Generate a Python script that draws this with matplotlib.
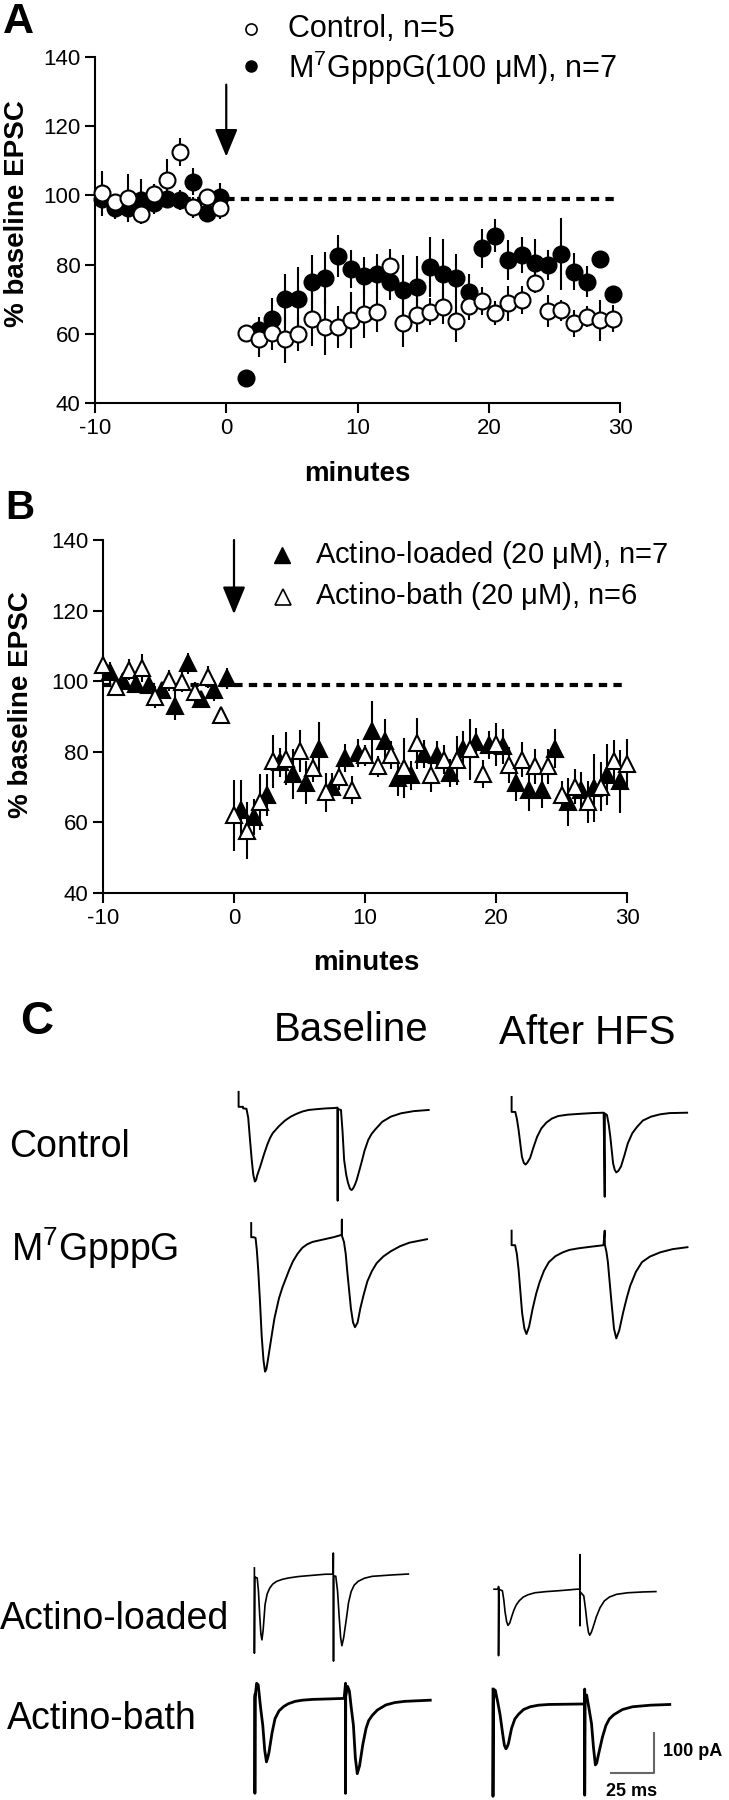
import matplotlib
matplotlib.use('Agg')
import matplotlib.pyplot as plt

plt.rcParams['font.family'] = ['Liberation Sans', 'DejaVu Sans']
plt.rcParams['mathtext.fontset'] = 'custom'
plt.rcParams['mathtext.rm'] = 'Liberation Sans'
plt.rcParams['mathtext.it'] = 'Liberation Sans:italic'
plt.rcParams['mathtext.bf'] = 'Liberation Sans:bold'
plt.rcParams['mathtext.default'] = 'regular'
plt.rcParams['axes.unicode_minus'] = False

# ---------------- DATA: panel A ----------------
a_ctrl_t = [-9.5, -8.5, -7.5, -6.5, -5.5, -4.5, -3.5, -2.5, -1.5, -0.5,
            1.5, 2.5, 3.5, 4.5, 5.5, 6.5, 7.5, 8.5, 9.5, 10.5, 11.5, 12.5, 13.5, 14.5, 15.5,
            16.5, 17.5, 18.5, 19.5, 20.5, 21.5, 22.5, 23.5, 24.5, 25.5, 26.5, 27.5, 28.5, 29.5]
a_ctrl_y = [100.6, 98.1, 99.2, 94.6, 100.4, 104.5, 112.5, 96.6, 99.4, 96.3,
            60.3, 58.4, 60.3, 58.6, 59.9, 64.4, 62.0, 62.0, 64.0, 65.7, 66.4, 79.6, 63.2, 65.4, 66.4,
            67.8, 63.7, 68.0, 69.5, 65.9, 68.8, 69.7, 74.8, 66.6, 66.8, 63.0, 64.9, 63.9, 64.4]
a_ctrl_e = [6.5, 2, 7, 3, 3, 6, 4, 3, 2, 3,
            2, 5, 5, 7, 5, 8, 8, 6, 8, 7, 6, 5, 7, 5, 4,
            5, 6, 4, 4, 3.5, 5, 4, 3, 4.5, 3, 4, 3, 6, 4]
a_m7_t = a_ctrl_t
a_m7_y = [99.0, 96.3, 96.3, 98.7, 97.7, 99.0, 98.7, 104.0, 94.8, 99.5,
          47.3, 61.0, 64.4, 70.2, 70.2, 75.0, 76.2, 82.5, 78.7, 76.7, 77.3, 74.9, 72.8, 73.6, 79.2,
          77.3, 76.0, 72.2, 84.7, 88.4, 81.3, 82.8, 80.5, 79.9, 83.1, 78.0, 75.0, 81.5, 71.4]
a_m7_e = [3, 3, 3, 6, 3, 2, 3, 4, 2, 4,
          1, 4, 6, 7, 9, 7.7, 7.5, 6, 5.5, 5.4, 5.8, 5, 10, 8.9, 8.7,
          10, 7, 5, 5.6, 4.8, 5.8, 5.1, 6.8, 4.3, 10.3, 5.3, 4.5, 1, 1.5]

# ---------------- DATA: panel B ----------------
b_bath_t = list(range(-10, 0)) + list(range(0, 31))
b_bath_y = [104.5, 98.4, 103.2, 103.8, 95.5, 100.3, 99.8, 96.9, 101.2, 90.4,
            62.0, 57.7, 65.8, 77.3, 78.0, 80.2, 75.4, 68.5, 72.8, 69.2, 79.0, 75.9, 79.0, 75.4, 82.4,
            73.5, 77.8, 77.6, 80.7, 73.7, 82.1, 76.3, 77.8, 75.9, 75.9, 67.7, 70.1, 65.8, 70.1, 77.3, 76.6]
b_bath_e = [3, 2, 3, 4, 3, 3, 3, 3, 3, 2,
            10, 8, 8, 7.5, 7.5, 6, 4, 5.5, 3.5, 4, 3, 3, 4, 8.6, 7.2,
            5, 4, 7, 8.6, 4, 6, 5, 5, 5, 5, 4, 5, 6, 7, 6, 7]
b_load_t = [-9.5, -8.5, -7.5, -6.5, -5.5, -4.5, -3.5, -2.5, -1.5, -0.5,
            0.5, 1.5, 2.5, 3.5, 4.5, 5.5, 6.5, 7.5, 8.5, 9.5, 10.5, 11.5, 12.5, 13.5, 14.5,
            15.5, 16.5, 17.5, 18.5, 19.5, 20.5, 21.5, 22.5, 23.5, 24.5, 25.5, 26.5, 27.5, 28.5, 29.5]
b_load_y = [102.5, 100.0, 99.3, 98.8, 97.4, 93.1, 105.1, 95.0, 97.4, 100.8,
            63.6, 61.5, 67.7, 77.0, 73.7, 71.3, 80.7, 70.1, 78.3, 79.7, 85.9, 83.2, 72.5, 73.3, 79.4,
            79.0, 74.0, 80.9, 82.8, 81.9, 81.6, 71.1, 69.2, 69.2, 80.9, 65.8, 69.2, 69.7, 73.5, 71.6]
b_load_e = [3, 2, 2, 2, 2, 4, 3, 2, 3, 3,
            8.4, 5, 6, 4, 7, 6, 7.7, 4, 4, 4, 8.5, 6, 5, 4, 4,
            4, 4, 5, 4, 4, 5, 5, 6, 5, 5.5, 6.7, 5, 9.6, 8.6, 9]

baseline_level = 99
xticks = [-10, 0, 10, 20, 30]
yticks = [40, 60, 80, 100, 120, 140]

# ---------------- DATA: panel C traces (time in ms, current in pA) ----------------
ctrl_base_t = [0, 0, 2.5, 2.6, 4.5, 5.5, 6.5, 7.5, 8.4, 9.3, 10.0, 10.6, 11.5, 12.5, 14.5, 16.5, 18, 19.5,
               21.3, 23.1, 26.5, 29.8, 33, 36.4, 40, 44.4, 50, 55, 56.5, 56.6, 56.7, 58.5, 59.4, 60.3,
               61.5, 62.5, 63.6, 64.6, 65.5, 66.5, 67.5, 70.1, 72, 74.1, 76, 78, 82.1, 87, 92.7, 100, 108.6]
ctrl_base_i = [41, 3, 3, -1, -2, -25, -80, -132, -170, -187, -183, -172, -160, -147, -118, -92, -76, -64,
               -55, -46, -32, -22, -15, -9, -5, -3, -1, 0, 1, -236, -3, -5, -60, -132,
               -170, -190, -205, -209, -204, -195, -183, -141, -108, -81, -66, -55, -35, -22, -13.6, -8, -5]
ctrl_hfs_t = [0, 0, 2.1, 3, 4, 5, 5.9, 7, 8, 9, 10.6, 12.5, 14.6, 17, 19.9, 23, 26.6, 32, 39.9, 46,
              52.6, 53.2, 53.3, 54.5, 55.5, 56.4, 57.2, 58, 58.9, 59.8, 61, 62.5, 64.5, 66.4, 69, 71.7,
              75, 79.7, 85, 90.3, 100.3]
ctrl_hfs_i = [40, 2, 2, -15, -44, -80, -112, -128, -132, -127, -115, -88, -61, -40, -25, -15, -8.5, -5, -2.6, -1,
              0, -214, -2, -6, -30, -61, -95, -129, -145, -152, -148, -137, -108, -78, -52, -36,
              -20, -10, -4, -1, 0]
m7_base_t = [0, 0, 1.5, 2.5, 3.2, 4, 5, 6, 7, 7.9, 8.6, 9.2, 10.6, 12, 13.3, 15.9, 17.9, 19.9, 21.9, 23.9,
             26.5, 29.2, 32, 35, 42, 47, 51.7, 51.8, 51.9, 53, 54, 55, 56, 57, 58.2, 59.3, 60.8, 62.4,
             64.4, 66.4, 69, 71.7, 75.5, 79.7, 85, 90.3, 100.5]
m7_base_i = [38, 2, 2, 0, -30, -80, -160, -250, -310, -340, -335, -320, -280, -240, -204, -153, -125, -102, -79, -59,
             -40, -25, -16, -10, -3, 2, 8, 47, 5, -10, -40, -90, -135, -180, -215, -227, -215, -178,
             -142, -110, -84, -64, -47, -34, -21, -12, -3]
m7_hfs_t = [0, 0, 2, 3, 4, 5, 6, 7.3, 8.5, 10, 12, 14, 16, 18.5, 21.3, 25, 29.3, 33, 38, 45, 52.5, 53.2,
            53.3, 54.2, 55, 56, 57, 58.5, 59.8, 61.5, 63.8, 65.8, 67.8, 71, 74.5, 79, 85, 92, 100.5]
m7_hfs_i = [39, 2, 2, -20, -60, -115, -170, -210, -224, -205, -160, -122, -92, -63, -41, -26, -16, -10, -6, -2, 2, 39,
            3, -15, -40, -90, -140, -210, -235, -215, -168, -132, -101, -66, -41, -27, -16, -8, -3]
load_base_t = [0, 0, 0.2, 1.6, 2.3, 3, 3.7, 4.3, 5.0, 6.1, 7.3, 8.8, 10.5, 12.8, 16, 19.4, 25, 30, 40.7,
               45.0, 45.1, 45.2, 45.3, 46.5, 47.5, 48.5, 49.3, 50.0, 51.0, 52.6, 53.8, 55.3, 57, 59.3,
               63, 67.3, 78, 88]
load_base_i = [18, -199, -5, -7.6, -40, -100, -150, -165, -140, -75, -48, -33, -23, -16, -11, -7.6, -4, -2, 2,
               2, 56, -219, -3, -3, -40, -110, -160, -180, -160, -110, -70, -42, -26, -16,
               -8, -3.4, 0, 2.5]
load_hfs_t = [0, 2.5, 2.6, 2.6, 2.8, 4.8, 5.6, 6.3, 7.2, 8.0, 9, 10.1, 11.3, 12.7, 14.5, 16.7, 19.5, 23.4,
              30, 36.6, 47.3, 49.0, 49.1, 49.1, 49.3, 51.3, 52.2, 53.2, 54.0, 54.7, 55.6, 56.6, 58.5,
              60.6, 63, 65.9, 70, 76.5, 85, 92.5]
load_hfs_i = [2, 2, 9, -167, 2, -2, -25, -55, -80, -90, -84, -68, -52, -38, -27, -18, -12, -7,
              -4, -2, 2, 2, 90, -91, -5, -15, -45, -85, -108, -115, -108, -95, -68,
              -45, -28, -18, -11, -7, -5, -4]
bath_base_t = [0, 0, 0.1, 1.0, 1.9, 3.2, 4.5, 5.6, 6.6, 7.3, 8, 9.8, 11.5, 13.8, 16.5, 19.1, 23, 27.1,
               33, 40.4, 51.0, 51.8, 51.8, 51.9, 53, 54, 55, 56.3, 57.4, 58.5, 59.8, 61.7, 63.5, 65,
               67, 70, 74.9, 80, 85.6, 100.2]
bath_base_i = [10, -240, 4, 40, 36, -20, -67, -130, -160, -150, -137, -86, -50, -30, -19, -12, -6, -3,
               -1, 0, 1.5, 40, -240, 7, 32, 20, -20, -67, -150, -190, -170, -115, -75, -55,
               -42, -28, -15, -9, -6, -3]
bath_hfs_t = [0, 0, 0.2, 0.8, 1.3, 2.7, 4.0, 5.5, 6.5, 7.4, 8.2, 8.8, 10.6, 12.5, 14.6, 17.5, 21.3, 26,
              31.9, 50.5, 52.3, 52.4, 52.4, 52.6, 53.5, 54.8, 56.3, 57.4, 58.5, 59.3, 60, 62.5, 64.5,
              66.5, 69.1, 74, 79.8, 90, 101]
bath_hfs_i = [38, -235, 4, 36, 35, 5, -26, -75, -105, -114, -108, -101, -62, -38, -26, -14, -7, -3,
              -1.2, 0, 0, 38, -232, 4, 23, -10, -50, -110, -155, -150, -134, -85, -55,
              -38, -27, -14, -7, -3, -1.2]
scale_ms = 25
scale_pa = 100

# ---------------- LAYOUT ----------------
W, H = 729, 1800
fig = plt.figure(figsize=(W / 100, H / 100), dpi=100)


def box(left, top, right, bottom):
    return [left / W, 1 - bottom / H, (right - left) / W, (bottom - top) / H]


def style_axes(ax):
    for s in ['top', 'right']:
        ax.spines[s].set_visible(False)
    for s in ['left', 'bottom']:
        ax.spines[s].set_linewidth(1.5)
    ax.set_xlim(-10, 30)
    ax.set_ylim(40, 140)
    ax.set_xticks(xticks)
    ax.set_yticks(yticks)
    ax.tick_params(direction='out', length=7, width=1.5, labelsize=16, pad=3.5)
    ax.patch.set_alpha(0)


# Panel A
axA = fig.add_axes(box(95, 57, 620, 403))
style_axes(axA)
axA.plot([-10, 30], [baseline_level, baseline_level], color='black', lw=3.0,
         dashes=(2.0, 1.5), zorder=2, clip_on=False)
axA.errorbar(a_m7_t, a_m7_y, yerr=a_m7_e, fmt='o', ms=11.5, mfc='black', mec='black', mew=1.5,
             ecolor='black', elinewidth=1.5, capsize=0, zorder=3, clip_on=False)
axA.errorbar(a_ctrl_t, a_ctrl_y, yerr=a_ctrl_e, fmt='o', ms=11.5, mfc='white', mec='black', mew=1.5,
             ecolor='black', elinewidth=1.5, capsize=0, zorder=4, clip_on=False)
axA.annotate('', xy=(0, 111.2), xytext=(0, 132),
             arrowprops=dict(arrowstyle='-|>,head_length=1.7,head_width=0.7', lw=1.6,
                             color='black', shrinkA=0, shrinkB=0, mutation_scale=10))
axA.plot([(250.7 - 95) / 525], [1 - (28.7 - 57) / 346], marker='o', ms=8, mfc='white',
         mec='black', mew=1.2, transform=axA.transAxes, clip_on=False)
axA.plot([(250.7 - 95) / 525], [1 - (65.9 - 57) / 346], marker='o', ms=8, mfc='black',
         mec='black', transform=axA.transAxes, clip_on=False)
fig.text(288 / W, 1 - 28.7 / H, 'Control, n=5', fontsize=22, va='center', ha='left')
fig.text(288 / W, 1 - 67.6 / H, r'M$^{7}$GpppG(100 $\mathregular{\mu}$M), n=7', fontsize=22,
         va='center', ha='left')
fig.text(18 / W, 1 - 22 / H, 'A', fontsize=31, fontweight='bold', ha='center', va='center')
fig.text(17 / W, 1 - 214 / H, '% baseline EPSC', fontsize=20, fontweight='bold', rotation=90,
         ha='center', va='center')
fig.text(357 / W, 1 - 474 / H, 'minutes', fontsize=20, fontweight='bold', ha='center', va='center')

# Panel B
axB = fig.add_axes(box(103, 540, 627, 893))
style_axes(axB)
axB.plot([-10, 30], [baseline_level, baseline_level], color='black', lw=3.0,
         dashes=(2.0, 1.5), zorder=2, clip_on=False)
axB.errorbar(b_load_t, b_load_y, yerr=b_load_e, fmt='^', ms=12, mfc='black', mec='black', mew=1.5,
             ecolor='black', elinewidth=1.5, capsize=0, zorder=3, clip_on=False)
axB.errorbar(b_bath_t, b_bath_y, yerr=b_bath_e, fmt='^', ms=12, mfc='white', mec='black', mew=1.5,
             ecolor='black', elinewidth=1.5, capsize=0, zorder=4, clip_on=False)
axB.annotate('', xy=(0, 119), xytext=(0, 140),
             arrowprops=dict(arrowstyle='-|>,head_length=1.7,head_width=0.7', lw=1.6,
                             color='black', shrinkA=0, shrinkB=0, mutation_scale=10))
axB.plot([(282 - 103) / 524], [1 - (555 - 540) / 353], marker='^', ms=12, mfc='black', mec='black',
         transform=axB.transAxes, clip_on=False)
axB.plot([(283 - 103) / 524], [1 - (597 - 540) / 353], marker='^', ms=12, mfc='white', mec='black',
         mew=1.2, transform=axB.transAxes, clip_on=False)
fig.text(315 / W, 1 - 555 / H, r'Actino-loaded (20 $\mathregular{\mu}$M), n=7', fontsize=21,
         va='center', ha='left')
fig.text(315 / W, 1 - 596 / H, r'Actino-bath (20 $\mathregular{\mu}$M), n=6', fontsize=21,
         va='center', ha='left')
fig.text(20 / W, 1 - 508 / H, 'B', fontsize=29, fontweight='bold', ha='center', va='center')
fig.text(21 / W, 1 - 705 / H, '% baseline EPSC', fontsize=20, fontweight='bold', rotation=90,
         ha='center', va='center')
fig.text(366 / W, 1 - 963 / H, 'minutes', fontsize=20, fontweight='bold', ha='center', va='center')

# Panel C
PX_MS = 1.75
PX_PA = 0.393
T_LO, T_HI = -3, 115
I_LO, I_HI = -420, 80


def trace_axes(x0, base):
    ax = fig.add_axes(box(x0 + T_LO * PX_MS, base - I_HI * PX_PA,
                          x0 + T_HI * PX_MS, base - I_LO * PX_PA))
    ax.set_xlim(T_LO, T_HI)
    ax.set_ylim(I_LO, I_HI)
    ax.axis('off')
    return ax


traces = [
    (ctrl_base_t, ctrl_base_i, 238.6, 1108, 1.4),
    (ctrl_hfs_t, ctrl_hfs_i, 511.6, 1112.7, 1.4),
    (m7_base_t, m7_base_i, 251.2, 1238, 1.4),
    (m7_hfs_t, m7_hfs_i, 511.6, 1246, 1.4),
    (load_base_t, load_base_i, 254.4, 1575, 1.2),
    (load_hfs_t, load_hfs_i, 494, 1590, 1.2),
    (bath_base_t, bath_base_i, 254.9, 1699, 2.0),
    (bath_hfs_t, bath_hfs_i, 493, 1704, 2.0),
]
last_ax = None
for t, i, x0, base, lw in traces:
    ax = trace_axes(x0, base)
    ax.plot(t, i, color='black', lw=lw, solid_joinstyle='round', clip_on=False)
    last_ax = ax

# scale bar (inside the last trace axes: base 1704 px)
sb_x, sb_y = 92.2, -175
last_ax.plot([sb_x - scale_ms, sb_x, sb_x], [sb_y, sb_y, sb_y + scale_pa], color='#666666', lw=1.5,
             clip_on=False)
fig.text(663 / W, 1 - 1752 / H, f'{scale_pa} pA', fontsize=13, fontweight='bold', ha='left', va='center')
fig.text(632 / W, 1 - 1791 / H, f'{scale_ms} ms', fontsize=13, fontweight='bold', ha='center', va='center')

fig.text(37 / W, 1 - 1022 / H, 'C', fontsize=33, fontweight='bold', ha='center', va='center')
fig.text(351 / W, 1 - 1030 / H, 'Baseline', fontsize=29, ha='center', va='center')
fig.text(587 / W, 1 - 1033 / H, 'After HFS', fontsize=29, ha='center', va='center')
fig.text(9 / W, 1 - 1147 / H, 'Control', fontsize=27, ha='left', va='center')
fig.text(11 / W, 1 - 1248 / H, r'M$^{7}$GpppG', fontsize=27, ha='left', va='center')
fig.text(0 / W, 1 - 1619 / H, 'Actino-loaded', fontsize=27, ha='left', va='center')
fig.text(7 / W, 1 - 1719 / H, 'Actino-bath', fontsize=27, ha='left', va='center')

fig.savefig('out.png', dpi=100)
